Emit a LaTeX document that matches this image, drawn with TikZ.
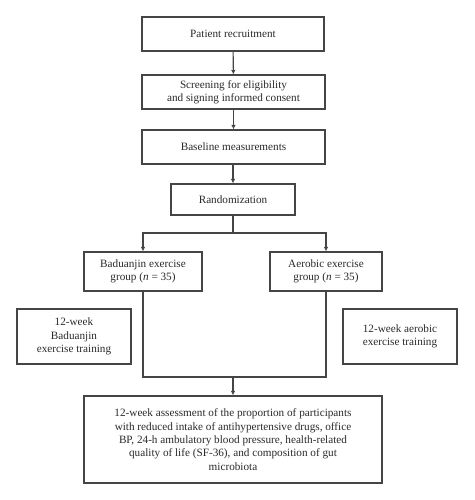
\documentclass[tikz,border=0pt]{standalone}
\usepackage{fontspec}
\setmainfont{Liberation Serif}
\usetikzlibrary{arrows.meta}
\definecolor{ln}{HTML}{454545}
\definecolor{tx}{HTML}{2A2A2A}
\begin{document}
\begin{tikzpicture}[x=1pt,y=-1pt,
  box/.style={draw=ln,line width=1.1pt,fill=white,align=center,inner sep=0pt,
    text=tx,font=\fontsize{11.2}{13.35}\selectfont},
  conn/.style={draw=ln,line width=1.1pt},
  arr/.style={conn,-{Latex[length=4.5pt,width=4.5pt]}}]
\useasboundingbox (0,0) rectangle (474,500);
\node[box,minimum width=182pt,minimum height=34pt] (b1) at (233,34) {Patient recruitment};
\node[box,minimum width=183pt,minimum height=34pt] (b2) at (233.5,92) {Screening for eligibility\\and signing informed consent};
\node[box,minimum width=183pt,minimum height=34pt] (b3) at (233.5,147) {Baseline measurements};
\node[box,minimum width=124pt,minimum height=31pt] (b4) at (233,199.5) {Randomization};
\node[box,minimum width=118pt,minimum height=39pt] (g1) at (143,271.5) {Baduanjin exercise\\group (\textit{n} = 35)};
\node[box,minimum width=112pt,minimum height=39pt] (g2) at (326,271.5) {Aerobic exercise\\group (\textit{n} = 35)};
\node[box,minimum width=114pt,minimum height=55pt] (t1) at (74,336.5) {12-week\\Baduanjin\\exercise training};
\node[box,minimum width=114pt,minimum height=55pt] (t2) at (400,336.5) {12-week aerobic\\exercise training};
\node[box,minimum width=298pt,minimum height=87pt] (out) at (233,439.5) {12-week assessment of the proportion of participants\\with reduced intake of antihypertensive drugs, office\\BP, 24-h ambulatory blood pressure, health-related\\quality of life (SF-36), and composition of gut\\microbiota};
\coordinate (split) at (233,233);
\coordinate (join) at (233,377);
\draw[arr] (b1) -- (b2);
\draw[arr] (b2) -- (b3);
\draw[arr] ([xshift=-0.5pt]b3.south) -- (b4);
\draw[conn] (b4) -- (split);
\draw[arr] (split) -| (g1);
\draw[arr] (split) -| (g2);
\draw[conn] (g1) |- (join);
\draw[conn] (g2) |- (join);
\draw[arr] (join) -- (out);
\end{tikzpicture}
\end{document}
